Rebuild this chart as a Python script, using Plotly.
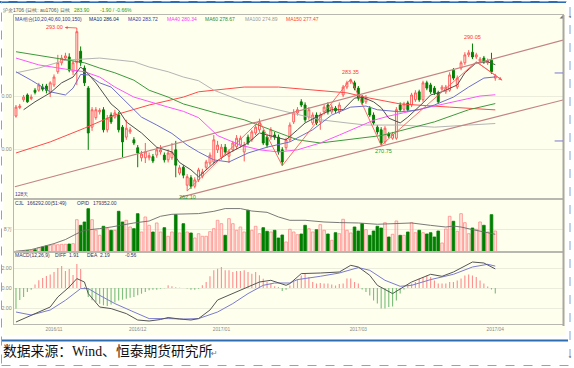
import plotly.graph_objects as go

W, H = 574, 368

# ---------------- data ----------------
month_labels = ["2016/11", "2016/12", "2017/01", "2017/03", "2017/04"]
month_pos = [10, 32, 54, 90, 126]

opens = [276.3,277.9,279.4,280.3,279.6, 281.2,281.2,281.8,282.0,280.7, 282.2,284.7,286.4,287.3,287.5,
         284.7,286.4,288.6,285.4,281.6, 274.2,276.0,277.1,277.5,273.7, 276.5,276.1,276.5,274.2,272.3,
         273.3,271.8,270.3,268.4,268.4, 268.4,268.6,268.9,269.5,268.9, 268.0,268.4,269.9,265.5,266.6,
         263.2,264.6,263.0,264.2,264.9, 266.6,267.4,267.6,269.9,268.5, 270.4,268.7,269.9,270.5,270.8,
         269.5,272.3,271.8,273.1,273.7, 273.3,272.3,272.3,272.7,272.3, 269.9,270.3,271.8,275.2,276.9,
         279.0,278.4,276.1,275.0,276.5, 275.2,277.1,278.4,277.1,277.8, 277.1,280.3,281.8,282.8,282.6,
         281.6,279.9,279.0,277.8,276.5, 274.2,273.7,271.4,272.9,272.1, 272.1,278.4,277.6,278.8,278.4,
         279.4,280.9,279.4,282.6,282.2, 281.6,280.7,281.4,280.9,281.2, 285.0,281.8,285.4,286.4,287.9,
         288.4,287.5,286.7,287.3,286.4, 286.9,283.5]
closes = [278.0,278.2,279.9,279.0,279.9, 280.8,282.2,281.4,281.2,282.6, 283.7,286.4,287.3,287.7,285.0,
          286.4,292.3,286.4,282.6,273.1, 277.5,277.5,277.4,273.7,275.9, 275.2,276.9,273.7,271.4,274.0,
          273.7,271.2,269.3,269.1,269.5, 268.8,267.8,269.9,269.9,268.0, 269.3,269.5,267.0,266.5,265.1,
          264.8,263.0,264.2,266.1,265.7, 267.6,268.9,271.8,270.8,270.4, 269.5,269.5,271.2,272.1,272.1,
          270.8,271.2,273.3,274.2,275.0, 271.2,270.8,273.7,272.3,269.5, 267.6,271.8,274.6,276.9,277.5,
          278.4,275.6,277.5,276.5,275.0, 276.5,278.0,277.1,278.0,277.3, 278.4,281.8,282.6,283.1,281.6,
          279.7,278.8,279.7,276.5,275.0, 273.3,271.2,274.0,272.5,272.9, 277.5,277.5,278.6,277.5,280.3,
          280.7,279.4,282.6,281.6,280.9, 280.7,279.0,281.8,281.8,284.1, 283.5,283.5,286.4,287.9,288.3,
          287.5,287.9,287.1,286.6,286.8, 284.7,283.9]
highs = [278.4,278.6,280.3,280.6,280.4, 281.6,282.6,282.4,282.4,282.9, 284.2,287.9,287.9,288.3,288.2,
         286.8,293.0,289.5,285.9,282.0, 278.0,278.0,277.8,278.0,276.5, 277.0,277.5,277.1,274.6,275.6,
         274.2,272.3,270.8,269.7,271.2, 269.4,269.1,270.4,270.8,269.4, 270.0,271.2,271.6,267.0,267.0,
         265.3,265.1,264.7,266.5,266.3, 268.0,269.4,272.7,271.6,271.0, 271.0,270.0,271.6,272.7,272.6,
         271.4,272.8,273.7,274.7,275.8, 273.7,272.8,274.2,273.3,272.8, 270.4,272.2,275.1,277.6,278.0,
         279.5,278.9,278.0,277.0,277.0, 277.0,278.5,278.9,278.5,278.2, 278.9,282.2,283.0,283.35,283.0,
         282.0,280.3,280.3,278.2,277.0, 274.6,274.2,274.4,273.3,273.3, 278.0,278.9,279.0,279.2,280.7,
         281.2,281.3,283.0,283.0,282.6, 282.0,281.1,282.2,282.2,284.6, 285.4,284.0,286.8,288.4,288.8,
         290.05,288.3,287.5,287.7,287.2, 288.3,284.3]
lows = [276.0,277.6,279.0,278.8,279.3, 280.4,280.9,281.0,280.6,279.9, 281.8,284.3,285.9,286.9,284.6,
        284.1,282.2,285.8,282.0,269.9, 273.5,275.6,276.6,273.2,273.2, 274.8,275.8,273.2,268.5,271.8,
        272.9,270.8,266.6,267.7,267.4, 267.9,267.4,268.4,269.0,267.5, 267.5,268.0,264.7,265.1,264.5,
        262.1,262.5,262.6,263.8,264.5, 266.1,266.9,267.1,269.3,268.0, 269.0,267.4,269.5,270.0,270.3,
        267.7,270.8,271.4,272.7,273.3, 270.8,270.3,271.8,271.8,269.0, 266.9,269.8,271.4,274.8,276.4,
        278.0,275.1,275.6,274.6,274.6, 273.7,276.6,276.6,276.7,276.9, 276.7,279.9,281.4,282.4,281.2,
        279.2,278.4,278.6,276.1,274.6, 272.8,270.75,271.0,272.1,271.8, 271.8,277.1,277.2,277.1,278.0,
        279.0,279.0,279.0,281.2,280.5, 280.3,278.6,281.0,280.5,280.9, 283.1,281.4,285.0,286.0,287.5,
        287.1,287.1,286.2,286.2,286.0, 284.3,283.0]

volumes = [5600,5600,7900,10300,13500, 18200,34100,39700,47600,53100, 57900,57900,61100,61100,63400,
           65800,256100,211700,237900,343400, 256100,172100,132400,203800,184800, 172100,172100,322800,237900,251400,
           198300,184800,303700,158600,277600, 211700,158600,230000,158600,192700, 124500,158600,295800,150700,224400,
           158600,150700,111000,145100,124500, 124500,161000,184800,251400,224400, 132400,264100,224400,172100,198300,
           158600,330700,172100,203800,145100, 192700,164200,158600,172100,111000, 134800,79300,180000,158600,137200,
           142700,211700,184800,158600,176800, 216500,172100,142700,92800,153000, 145100,259300,172100,150700,198300,
           166500,224400,176800,132400,166500, 203800,190300,232300,119000,140400, 245800,132400,132400,158600,232300,
           153000,172100,153000,142700,153000, 119000,166500,71400,182400,283100, 243500,164200,303700,232300,145100,
           190300,180000,237900,211700,158600, 295800,166292]

oi_i = [0,4,10,13,16,18,22,25,31,35,38,41,48,52,55,59,62,66,69,72,76,81,85,90,95,100,104,109,113,115,117,120,123,126]
oi_v = [7000,24000,85000,126000,186000,220000,237000,253000,294000,314000,362000,382000,389000,412000,440000,
        440000,415000,402000,355000,321000,321000,304000,298000,294000,281000,288000,294000,270000,253000,
        263000,253000,227000,203000,179352]

macd_hist = [-2.07,-1.2,-0.9,-0.4,-0.17, 0.35,0.77,1.0,1.2,1.35, 1.6,2.0,2.2,1.7,1.9,
             1.3,2.4,1.9,0.1,-0.9, -1.23,-1.4,-1.57,-1.73,-1.8, -1.65,-1.45,-1.25,-1.17,-1.07,
             -0.97,-0.9,-0.73,-0.57,-0.4, -0.23,-0.17,-0.17,-0.07,-0.03, 0.27,0.17,0.08,0.03,0.0,
             -0.05,-0.17,-0.17,-0.08,0.27, 0.6,1.17,1.77,1.93,2.1, 1.77,1.77,1.6,1.7,1.7,
             1.77,1.6,1.43,1.6,1.27, 0.93,0.6,0.43,0.17,0.1, -0.3,-0.17,0.25,0.6,0.9,
             1.25,1.4,1.1,0.6,0.45, 0.5,0.45,0.45,0.35,0.25, 0.4,0.45,0.95,0.95,0.6,
             0.45,-0.15,-0.4,-0.75,-1.25, -1.55,-2.05,-2.05,-1.9,-1.85, -1.25,-0.55,-0.15,0.25,0.45,
             0.6,0.95,1.1,1.25,1.1, 0.75,0.45,0.45,0.45,0.6, 0.6,0.75,0.95,1.25,1.35,
             1.25,1.1,0.75,0.45,0.15, -0.15,-0.56]
diff_i = [0,4,9,11,14,16,18,19,22,25,26,29,32,35,38,40,43,46,48,51,53,57,61,64,67,69,71,72,75,80,85,88,90,93,95,99,102,104,109,112,115,120,123,126]
diff_v = [-3.4,-2.7,-1.9,-0.9,0.1,0.94,0.6,-0.56,-1.9,-2.06,-2.2,-2.56,-3.2,-3.3,-3.15,-2.95,-3.1,-3.2,-3.06,-2.2,
          -1.2,-0.56,0.1,0.6,0.77,0.5,0.27,0.44,1.44,1.5,1.6,2.27,2.1,1.27,0.27,-0.56,0.1,0.6,1.37,1.17,1.6,2.6,2.5,1.91]
dea_i = [0,4,9,13,17,19,22,26,31,35,40,44,48,53,57,61,65,68,72,74,80,85,90,93,97,101,104,109,115,120,124,126]
dea_v = [-2.4,-2.7,-2.2,-1.23,-0.06,-0.06,-0.73,-1.56,-2.4,-3.06,-3.06,-3.1,-3.06,-2.4,-1.56,-0.56,0.27,0.5,
         0.5,0.84,1.17,1.5,2.04,1.77,0.77,0.17,0.27,0.84,1.37,2.1,2.37,2.19]

ma10_i = [2,5,9,12,15,17,19,21,25,27,29,33,37,41,43,46,48,52,56,61,64,68,71,74,76,80,83,86,89,91,94,96,98,101,103,107,109,112,116,118,121,124,126]
ma10_v = [277.5,279.0,280.7,282.6,283.7,285.6,284.3,282.6,278.6,277.4,275.2,273.1,270.4,269.5,267.5,266.1,264.8,
          267.4,269.3,271.2,273.1,272.3,271.8,273.7,275.0,276.5,277.5,277.5,279.7,279.9,279.0,277.9,275.9,275.0,
          276.1,278.8,280.3,280.9,282.2,284.5,286.4,286.6,286.04]
ma20_i = [0,4,9,13,15,17,19,22,25,29,33,37,41,45,48,52,56,61,66,72,78,83,88,92,95,101,106,110,115,119,123,126]
ma20_v = [284.7,283.1,280.9,280.3,281.6,284.2,284.1,282.6,281.8,279.0,276.1,274.6,273.0,270.8,269.5,268.0,267.6,
          269.3,270.4,271.4,273.7,276.5,278.0,278.2,277.5,277.1,277.5,278.4,279.9,281.8,283.5,283.72]
ma40_i = [0,6,13,18,22,26,31,35,40,44,48,53,59,64,69,74,80,85,90,94,98,103,108,113,118,122,126]
ma40_v = [287.3,286.0,285.2,284.7,283.7,281.8,279.9,279.0,278.0,277.2,276.0,272.6,270.8,269.9,269.5,269.9,271.2,
          272.7,274.2,275.5,276.3,277.1,278.0,278.8,279.6,280.1,280.34]
ma60_i = [0,9,18,22,26,31,35,40,44,48,53,60,69,74,80,87,92,96,102,110,119,126]
ma60_v = [288.5,287.5,286.4,285.4,284.5,283.1,281.2,279.9,278.6,277.8,276.8,275.6,273.1,271.8,271.2,271.8,272.3,
          272.6,273.7,275.2,277.5,278.67]
ma100_i = [0,6,13,22,31,35,40,44,48,52,60,67,74,80,87,92,101,110,119,126]
ma100_v = [284.5,285.4,286.9,287.3,286.6,285.6,284.7,283.7,283.0,281.2,279.0,277.8,276.5,275.6,275.0,274.6,274.6,
           274.2,274.6,274.89]
ma150_i = [0,9,18,26,35,44,48,52,60,69,78,87,93,101,114,126]
ma150_v = [269.3,271.4,274.0,276.5,278.4,279.9,280.9,281.2,281.8,281.8,281.2,280.7,279.7,278.6,278.0,277.47]

chanA_x, chanA_y = [-0.3, 143.8], [262.9, 290.7]
chanB_x, chanB_y = [43.1, 143.8], [260.9, 279.35]
zz_i = [45, 64, 70, 88, 96, 121, 127.8]
zz_v = [262.1, 275.4, 266.9, 283.35, 270.75, 286.6, 283.1]
right_marks = [284.47, 271.58]

# ---------------- figure ----------------
n = len(closes)
idx = list(range(n))
up = [c >= o for o, c in zip(opens, closes)]
UPC, DNC = "#FF5A5A", "#007F00"
FONT = "Liberation Sans"

fig = go.Figure()
fig.add_trace(go.Candlestick(
    x=idx, open=opens, high=highs, low=lows, close=closes, whiskerwidth=0,
    increasing=dict(line=dict(color=UPC, width=1), fillcolor="rgba(0,0,0,0)"),
    decreasing=dict(line=dict(color=DNC, width=1), fillcolor=DNC),
    xaxis="x", yaxis="y", hoverinfo="skip", showlegend=False))

for xs, ys, col in [(ma150_i, ma150_v, "#FF4A4A"), (ma100_i, ma100_v, "#B4B4B4"),
                    (ma60_i, ma60_v, "#3C9A3C"), (ma40_i, ma40_v, "#FF55FF"),
                    (ma20_i, ma20_v, "#6E6ECC"), (ma10_i, ma10_v, "#505050")]:
    fig.add_trace(go.Scatter(x=xs, y=ys, mode="lines", line=dict(color=col, width=1),
                             xaxis="x", yaxis="y", hoverinfo="skip"))

for xs, ys in [(chanA_x, chanA_y), (chanB_x, chanB_y)]:
    fig.add_trace(go.Scatter(x=xs, y=ys, mode="lines", line=dict(color="#C48484", width=1.2),
                             xaxis="x", yaxis="y", hoverinfo="skip"))
fig.add_trace(go.Scatter(x=zz_i, y=zz_v, mode="lines", line=dict(color="#FF5C5C", width=0.9),
                         xaxis="x", yaxis="y", hoverinfo="skip"))

# volume + open interest
fig.add_trace(go.Bar(x=idx, y=volumes, width=0.7,
                     marker=dict(color=["rgba(255,190,190,0.35)" if u else DNC for u in up],
                                 line=dict(color=["#FF8C8C" if u else DNC for u in up], width=0.8)),
                     xaxis="x2", yaxis="y2", hoverinfo="skip"))
fig.add_trace(go.Scatter(x=oi_i, y=oi_v, mode="lines", line=dict(color="#6A6A6A", width=0.9),
                         xaxis="x2", yaxis="y4", hoverinfo="skip"))

# MACD
fig.add_trace(go.Bar(x=idx, y=macd_hist, width=0.3,
                     marker=dict(color=["#FF9090" if v >= 0 else "#7CC07C" for v in macd_hist], line=dict(width=0)),
                     xaxis="x3", yaxis="y3", hoverinfo="skip"))
fig.add_trace(go.Scatter(x=dea_i, y=dea_v, mode="lines", line=dict(color="#7B7BD0", width=1),
                         xaxis="x3", yaxis="y3", hoverinfo="skip"))
fig.add_trace(go.Scatter(x=diff_i, y=diff_v, mode="lines", line=dict(color="#555555", width=1),
                         xaxis="x3", yaxis="y3", hoverinfo="skip"))

# ---- page labels, placed by their left edge in page pixels on an overlay frame ----
last_chg = -1.90
labels = [
    (3, 11, "沪金1706 (日线: au1706) 日线", "#555555", 5.0, FONT),
    (74, 11, f"{closes[-1]:.2f}", "#1A9A1A", 5.0, FONT),
    (100, 11, f"{last_chg:.2f} / {last_chg / (closes[-1] - last_chg) * 100:.2f}%", "#1A9A1A", 5.0, FONT),
    (15, 19.5, "MA组合(10,20,40,60,100,150)", "#333399", 5.0, FONT),
    (89, 19.5, f"MA10 {ma10_v[-1]:.2f}", "#222255", 5.0, FONT),
    (128, 19.5, f"MA20 {ma20_v[-1]:.2f}", "#3838A8", 5.0, FONT),
    (167, 19.5, f"MA40 {ma40_v[-1]:.2f}", "#FF33FF", 5.0, FONT),
    (205, 19.5, f"MA60 {ma60_v[-1]:.2f}", "#2E8B2E", 5.0, FONT),
    (245, 19.5, f"MA100 {ma100_v[-1]:.2f}", "#9A9A9A", 5.0, FONT),
    (286, 19.5, f"MA150 {ma150_v[-1]:.2f}", "#FF3B3B", 5.0, FONT),
    (15, 194.5, f"{n + 1}天", "#3A3AAA", 5.0, FONT),
    (15, 204, "CJL", "#333366", 5.0, FONT),
    (27, 204, f"{volumes[-1]:.2f}(51:49)", "#333366", 5.0, FONT),
    (77, 204, "OPID", "#333366", 5.0, FONT),
    (93, 204, f"{oi_v[-1]:.2f}", "#333366", 5.0, FONT),
    (15, 256, "MACD(12,26,9)", "#333366", 5.0, FONT),
    (55, 256, "DIFF", "#333366", 5.0, FONT),
    (69, 256, f"{diff_v[-1]:.2f}", "#333366", 5.0, FONT),
    (87, 256, "DEA", "#333366", 5.0, FONT),
    (100, 256, f"{dea_v[-1]:.2f}", "#333366", 5.0, FONT),
    (125, 256, f"{macd_hist[-1]:.2f}", "#333366", 5.0, FONT),
    (559.5, 17, "◢", "#777777", 5.0, "DejaVu Sans"),
    (568.5, 17, "◂", "#666666", 4.5, "DejaVu Sans"),
    (568.5, 357, "◂", "#666666", 4.5, "DejaVu Sans"),
    (3, 353, "数据来源：Wind、恒泰期货研究所", "#111111", 13.8, "Liberation Serif, Noto Sans CJK SC"),
    (211, 354, "↵", "#777777", 8.0, "DejaVu Sans"),
]
fig.add_trace(go.Scatter(
    x=[l[0] for l in labels], y=[l[1] for l in labels], text=[l[2] for l in labels],
    mode="text", textposition="middle right", cliponaxis=False,
    textfont=dict(color=[l[3] for l in labels], size=[l[4] for l in labels], family=[l[5] for l in labels]),
    xaxis="x4", yaxis="y5", hoverinfo="skip"))

xdom = [14 / W, 563 / W]
xr = [-0.52, 143.8]
LC = "#B8B8B0"
GC = "#ECECDD"
common_x = dict(domain=xdom, range=xr, showline=True, mirror=True, linecolor=LC, linewidth=1.2,
                showgrid=False, zeroline=False, ticks="", automargin=False, fixedrange=True)
common_y = dict(showline=True, mirror=True, linecolor=LC, linewidth=1.2, showgrid=True, gridcolor=GC,
                zeroline=False, ticks="", automargin=False, fixedrange=True,
                tickfont=dict(size=5.3, color="#888888", family=FONT))

fig.update_layout(
    template="none", width=W, height=H, margin=dict(l=0, r=0, t=0, b=0),
    paper_bgcolor="white", plot_bgcolor="rgba(0,0,0,0)", showlegend=False,
    font=dict(family=FONT), hovermode=False,
    xaxis=dict(common_x, anchor="y", showticklabels=False, rangeslider=dict(visible=False)),
    xaxis2=dict(common_x, anchor="y2", showticklabels=False, matches="x"),
    xaxis3=dict(common_x, anchor="y3", matches="x", tickvals=month_pos, ticktext=month_labels,
                tickfont=dict(size=4.8, color="#8A8A8A", family=FONT)),
    xaxis4=dict(domain=[0, 1], range=[0, W], visible=False, anchor="y5", fixedrange=True),
    yaxis=dict(common_y, domain=[1 - 199 / H, 1 - 15 / H], range=[260.58, 295.46],
               tickvals=[270, 280], ticktext=["0.00", "0.00"]),
    yaxis2=dict(common_y, domain=[1 - 252 / H, 1 - 199 / H], range=[0, 420000],
                tickvals=[180000], ticktext=["8万"]),
    yaxis4=dict(overlaying="y2", range=[0, 536900], visible=False),
    yaxis3=dict(common_y, domain=[1 - 324 / H, 1 - 252 / H], range=[-3.6, 3.6],
                tickvals=[-2, 0, 2], ticktext=["2.00", "0.00", "2.00"]),
    yaxis5=dict(domain=[0, 1], range=[H, 0], visible=False, anchor="x4", fixedrange=True),
)

shapes = [
    dict(type="rect", xref="paper", yref="paper", x0=3 / W, x1=565 / W, y0=1 - 335 / H, y1=1 - 5 / H,
         fillcolor="#FFFFEE", line=dict(width=0), layer="below"),
    dict(type="line", xref="paper", yref="paper", x0=563.5 / W, x1=563.5 / W, y0=1 - 326 / H, y1=1 - 15 / H,
         line=dict(color="#A8A8A0", width=2)),
    dict(type="line", xref="paper", yref="paper", x0=0, x1=566 / W, y0=1 - 2 / H, y1=1 - 2 / H,
         line=dict(color="#2F6DB3", width=2)),
    dict(type="line", xref="paper", yref="paper", x0=2 / W, x1=568 / W, y0=1 - 340.5 / H, y1=1 - 340.5 / H,
         line=dict(color="#2F6DB3", width=2.2)),
    dict(type="rect", xref="paper", yref="paper", x0=1.5 / W, x1=570 / W, y0=1 - 365.5 / H, y1=1 - 1.5 / H,
         line=dict(color="#7FA6DA", width=1, dash="dash")),
]
for p in right_marks:
    shapes.append(dict(type="line", xref="x", yref="y", x0=141.6, x1=143.8, y0=p, y1=p,
                       line=dict(color="#7777CC", width=1)))
fig.update_layout(shapes=shapes)

ann = []
hi_i = highs.index(max(highs[:40]))
ann.append(dict(xref="x", yref="y", x=hi_i, y=highs[hi_i], text=f"{highs[hi_i]:.2f}", showarrow=True,
                ax=-22, ay=-1, arrowside="start", startarrowhead=2, startarrowsize=0.7, arrowwidth=0.8,
                arrowcolor="#FF4040", font=dict(size=5.5, color="#FF3333", family=FONT)))
for (i0, i1, kind) in [(40, 60, "low"), (80, 92, "high"), (92, 100, "low"), (115, 126, "high")]:
    seg = lows[i0:i1] if kind == "low" else highs[i0:i1]
    v = min(seg) if kind == "low" else max(seg)
    k = i0 + seg.index(v)
    ann.append(dict(xref="x", yref="y", x=k, y=v, text=f"{v:.2f}", showarrow=False,
                    yanchor="top" if kind == "low" else "bottom", yshift=-1 if kind == "low" else 2,
                    xshift=2 if k == 96 else 0,
                    font=dict(size=5.5, color="#229922" if kind == "low" else "#FF3333", family=FONT)))
ann.append(dict(xref="x", yref="y", axref="x", ayref="y", x=zz_i[-1], y=zz_v[-1], ax=zz_i[-2], ay=zz_v[-2],
                text="", showarrow=True, arrowhead=2, arrowsize=0.8, arrowwidth=0.9, arrowcolor="#FF5C5C"))
fig.update_layout(annotations=ann)

# the page body's default 8px margin would shift the figure; remove it
fig.write_html("out.html", config={"displayModeBar": False, "staticPlot": True},
               post_script="document.body.style.margin='0';document.body.style.padding='0';")
